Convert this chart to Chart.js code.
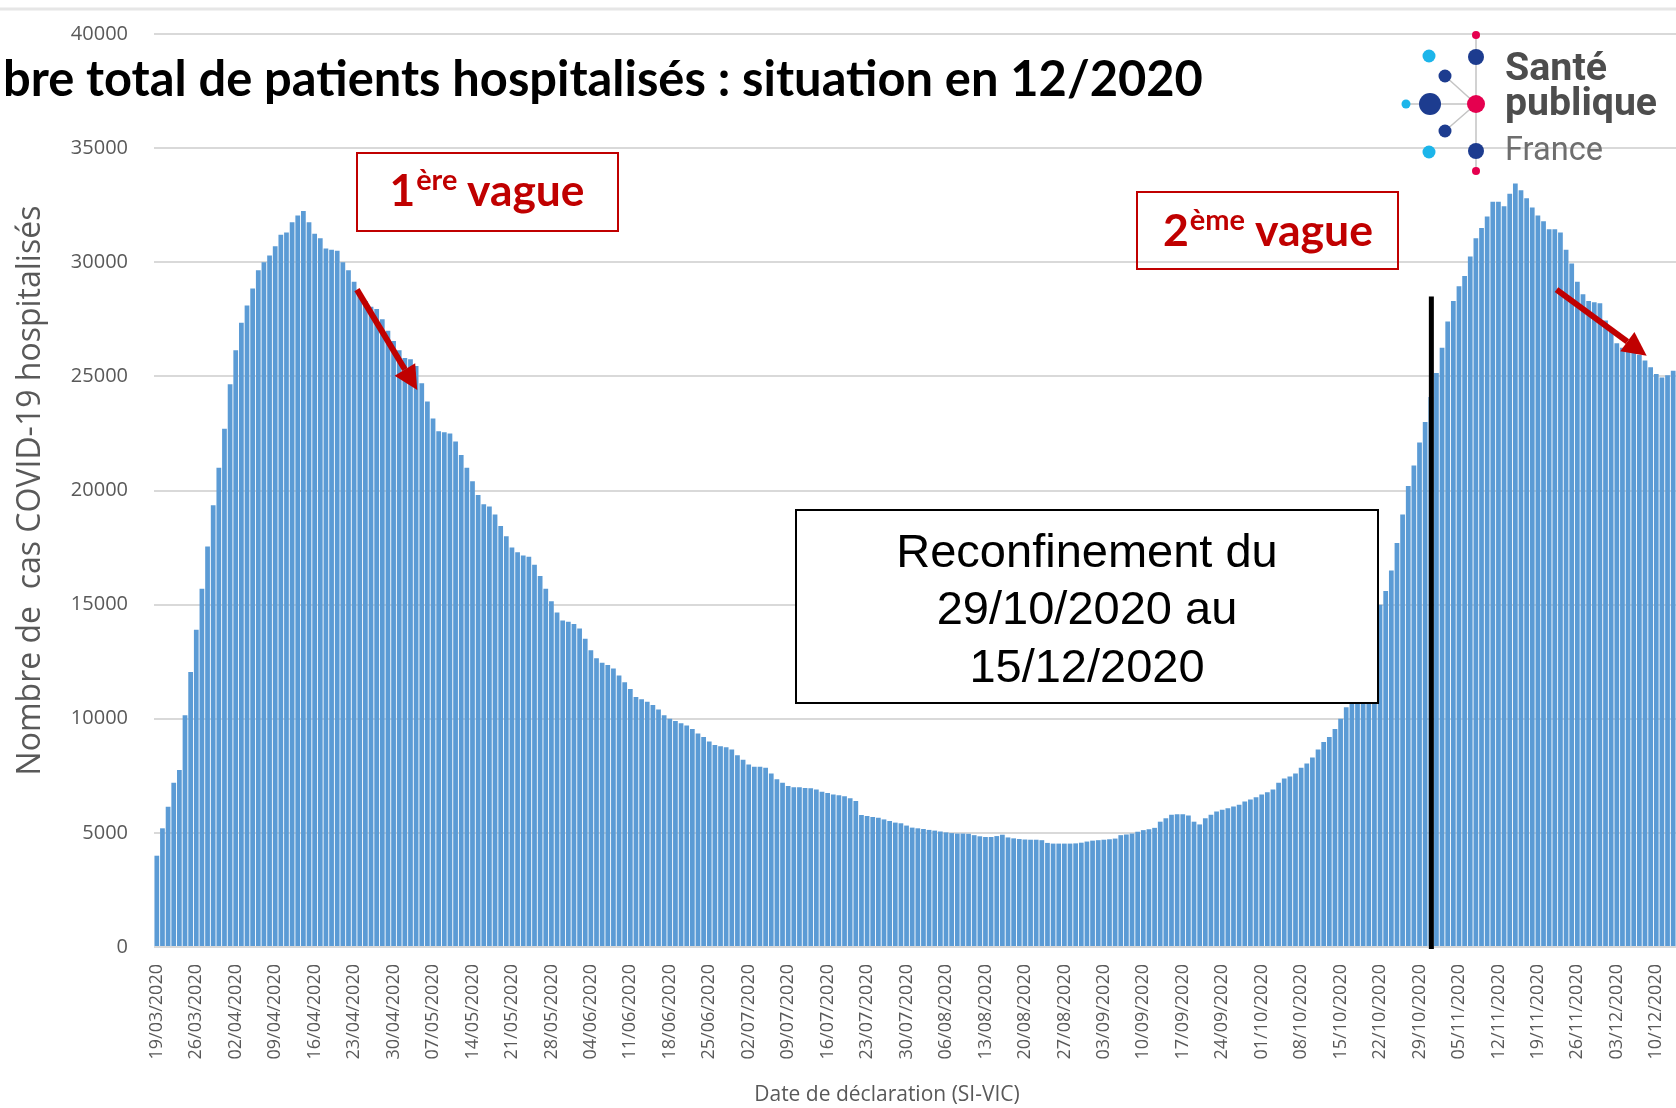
<!DOCTYPE html>
<html>
<head>
<meta charset="utf-8">
<script src="https://cdn.jsdelivr.net/npm/chart.js@4.4.0/dist/chart.umd.min.js"></script>
<style>
  html, body { margin: 0; padding: 0; background: #fff; }
  #wrap { width: 1676px; height: 1108px; position: relative; }
</style>
</head>
<body>
<div id="wrap"><canvas id="hosp" width="1676" height="1108"></canvas></div>
<script>
// patients hospitalises, un point par jour a partir du 19/03/2020
const mars = [4000, 5200, 6150, 7200, 7750, 10150, 12050, 13900, 15700, 17550, 19350, 21000, 22700];
const avril = [24650, 26150, 27350, 28100, 28850, 29650, 30000, 30300, 30700, 31200,
    31300, 31750, 32050, 32250, 31750, 31250, 31050, 30600, 30550, 30500,
    30000, 29650, 29150, 28600, 28300, 28050, 27950, 27500, 27000, 26550];
const mai = [26150, 25800, 25750, 25450, 24700, 23900, 23150, 22600, 22550, 22500,
    22150, 21550, 21000, 20400, 19800, 19400, 19300, 18950, 18450, 18000,
    17500, 17300, 17150, 17100, 16750, 16250, 15700, 15150, 14650, 14300, 14250];
const juin = [14150, 13950, 13500, 13000, 12650, 12450, 12350, 12200, 11900, 11600,
    11300, 10950, 10850, 10750, 10600, 10400, 10150, 10000, 9900, 9800,
    9700, 9550, 9350, 9200, 9000, 8850, 8800, 8750, 8650, 8400];
const juillet = [8200, 8000, 7900, 7900, 7850, 7600, 7350, 7200, 7050, 7000,
    7000, 6970, 6950, 6900, 6800, 6750, 6680, 6650, 6600, 6520,
    6400, 5780, 5740, 5700, 5660, 5590, 5520, 5450, 5420, 5320, 5230];
const aout = [5200, 5170, 5130, 5100, 5060, 5020, 4990, 4970, 4970, 4960,
    4900, 4850, 4820, 4820, 4860, 4920, 4800, 4760, 4730, 4710,
    4700, 4700, 4680, 4560, 4530, 4530, 4530, 4530, 4540, 4570, 4620];
const septembre = [4660, 4680, 4700, 4720, 4750, 4900, 4930, 4970, 5050, 5120,
    5160, 5220, 5490, 5640, 5790, 5820, 5820, 5760, 5490, 5370,
    5640, 5790, 5940, 6010, 6080, 6160, 6230, 6380, 6460, 6560];
const octobre = [6680, 6780, 6900, 7200, 7380, 7470, 7600, 7850, 8040, 8300,
    8650, 8980, 9200, 9550, 10000, 10500, 10950, 11650, 12400, 13150,
    14050, 15000, 15600, 16500, 17700, 18950, 20200, 21100, 22100, 23000, 24100];
const novembre = [25150, 26250, 27400, 28300, 28950, 29400, 30250, 31050, 31500, 32000,
    32650, 32650, 32450, 33000, 33450, 33150, 32800, 32400, 32050, 31800,
    31450, 31450, 31300, 30550, 29950, 29150, 28600, 28300, 28250, 28200];
const decembre = [27450, 26950, 26450, 26250, 26150, 26100, 25950, 25700, 25400, 25100,
    24950, 25050, 25250];

const hospitalises = [].concat(mars, avril, mai, juin, juillet, aout, septembre, octobre, novembre, decembre);

const premierJour = new Date(2020, 2, 19);
const jours = hospitalises.map((_, i) => {
    const d = new Date(premierJour.getFullYear(), premierJour.getMonth(), premierJour.getDate() + i);
    const dd = String(d.getDate()).padStart(2, '0');
    const mm = String(d.getMonth() + 1).padStart(2, '0');
    return `${dd}/${mm}/${d.getFullYear()}`;
});

const yTicks = [0, 5000, 10000, 15000, 20000, 25000, 30000, 35000, 40000];

// annotations (en unites du graphique : indice du jour, nombre)
const fleche1 = [[35.5, 28800], [46.2, 24400]];
const fleche2 = [[248.3, 28800], [264.3, 25900]];
const reconfinement = { jour: 226.1, haut: 28500 };

const grey = '#595959';
const red = '#C00000';

function fitFont(ctx, text, weight, family, targetW) {
    ctx.font = `${weight} 100px ${family}`;
    return 100 * targetW / ctx.measureText(text).width;
}

function drawArrow(ctx, x1, y1, x2, y2) {
    const ang = Math.atan2(y2 - y1, x2 - x1);
    const head = 24, half = 12;
    const bx = x2 - head * Math.cos(ang), by = y2 - head * Math.sin(ang);
    ctx.strokeStyle = red;
    ctx.fillStyle = red;
    ctx.lineWidth = 6;
    ctx.beginPath();
    ctx.moveTo(x1, y1);
    ctx.lineTo(bx, by);
    ctx.stroke();
    ctx.beginPath();
    ctx.moveTo(x2, y2);
    ctx.lineTo(bx + half * Math.sin(ang), by - half * Math.cos(ang));
    ctx.lineTo(bx - half * Math.sin(ang), by + half * Math.cos(ang));
    ctx.closePath();
    ctx.fill();
}

function drawVague(ctx, num, sup, rest, cx, baseline, targetW) {
    let big = 40, small = 26;
    ctx.font = `bold ${big}px Lato`;
    let w1 = ctx.measureText(num).width, w3 = ctx.measureText(rest).width;
    ctx.font = `bold ${small}px Lato`;
    let w2 = ctx.measureText(sup).width;
    const k = targetW / (w1 + w2 + w3);
    big *= k; small *= k; w1 *= k; w2 *= k; w3 *= k;
    let x = cx - (w1 + w2 + w3) / 2;
    ctx.fillStyle = red;
    ctx.textAlign = 'left';
    ctx.textBaseline = 'alphabetic';
    ctx.font = `bold ${big}px Lato`;
    ctx.fillText(num, x, baseline);
    ctx.font = `bold ${small}px Lato`;
    ctx.fillText(sup, x + w1 + 1, baseline - big * 0.36);
    ctx.font = `bold ${big}px Lato`;
    ctx.fillText(rest, x + w1 + w2, baseline);
}

function drawLogo(ctx) {
    const dark = '#1d3c8f', light = '#1cb5ea', pink = '#e5004f';
    ctx.strokeStyle = '#c4c4c4';
    ctx.lineWidth = 1.5;
    ctx.beginPath();
    ctx.moveTo(1476, 35); ctx.lineTo(1476, 171);
    ctx.moveTo(1476, 104); ctx.lineTo(1445, 76);
    ctx.moveTo(1476, 104); ctx.lineTo(1430, 104);
    ctx.moveTo(1476, 104); ctx.lineTo(1445, 131);
    ctx.moveTo(1430, 104); ctx.lineTo(1406, 104);
    ctx.stroke();
    const dots = [
        [1476, 35, 4, pink], [1476, 57, 8, dark], [1429, 56, 6.5, light], [1445, 76, 6.5, dark],
        [1406, 104, 4.5, light], [1430, 104, 11, dark], [1476, 104, 9, pink],
        [1445, 131, 6.5, dark], [1429, 152, 6.5, light], [1476, 151, 8, dark], [1476, 171, 4, pink]
    ];
    dots.forEach(([x, y, r, c]) => {
        ctx.fillStyle = c;
        ctx.beginPath();
        ctx.arc(x, y, r, 0, Math.PI * 2);
        ctx.fill();
    });
    ctx.textAlign = 'left';
    ctx.textBaseline = 'alphabetic';
    ctx.fillStyle = '#4d4d4d';
    let s = fitFont(ctx, 'Santé', 'bold', 'Roboto', 102);
    ctx.font = `bold ${s}px Roboto`;
    ctx.fillText('Santé', 1505, 80);
    s = fitFont(ctx, 'publique', 'bold', 'Roboto', 152);
    ctx.font = `bold ${s}px Roboto`;
    ctx.fillText('publique', 1505, 115);
    ctx.fillStyle = '#6e6e6e';
    s = fitFont(ctx, 'France', 'normal', 'Roboto', 98);
    ctx.font = `normal ${s}px Roboto`;
    ctx.fillText('France', 1505, 160);
}

const overlay = {
    id: 'overlay',
    beforeDraw(chart) {
        const ctx = chart.ctx;
        ctx.save();
        ctx.fillStyle = '#fff';
        ctx.fillRect(0, 0, chart.width, chart.height);
        ctx.strokeStyle = '#e6e6e6';
        ctx.lineWidth = 3;
        ctx.beginPath();
        ctx.moveTo(0, 9); ctx.lineTo(chart.width, 9);
        ctx.stroke();
        ctx.restore();
    },
    afterDatasetsDraw(chart) {
        const ctx = chart.ctx;
        const xs = chart.scales.x, ys = chart.scales.y;
        ctx.save();
        // trait du reconfinement
        const lx = xs.getPixelForValue(reconfinement.jour);
        ctx.fillStyle = '#000';
        ctx.fillRect(lx - 2.5, ys.getPixelForValue(reconfinement.haut), 5,
            ys.getPixelForValue(0) - ys.getPixelForValue(reconfinement.haut) + 2);
        [fleche1, fleche2].forEach(f => {
            drawArrow(ctx, xs.getPixelForValue(f[0][0]), ys.getPixelForValue(f[0][1]),
                xs.getPixelForValue(f[1][0]), ys.getPixelForValue(f[1][1]));
        });
        ctx.restore();
    },
    afterDraw(chart) {
        const ctx = chart.ctx;
        ctx.save();
        // titre (coupe a gauche comme sur la diapo)
        const titre = 'bre total de patients hospitalisés : situation en 12/2020';
        const ts = fitFont(ctx, titre, 'bold', 'Lato', 1200);
        ctx.font = `bold ${ts}px Lato`;
        ctx.fillStyle = '#000';
        ctx.textAlign = 'left';
        ctx.textBaseline = 'alphabetic';
        ctx.fillText(titre, 3, 96);

        // titre de l'axe des dates
        ctx.font = '21px "Open Sans"';
        ctx.fillStyle = grey;
        ctx.textAlign = 'center';
        ctx.textBaseline = 'middle';
        ctx.fillText('Date de déclaration (SI-VIC)', 887, 1095);
        ctx.textBaseline = 'alphabetic';

        // encadres vagues
        ctx.strokeStyle = red;
        ctx.lineWidth = 2;
        ctx.strokeRect(357, 153, 261, 78);
        ctx.strokeRect(1137, 192, 261, 77);
        drawVague(ctx, '1', 'ère', ' vague', 487, 206, 195);
        drawVague(ctx, '2', 'ème', ' vague', 1268, 246, 210);

        // encadre reconfinement
        ctx.fillStyle = '#fff';
        ctx.fillRect(796, 510, 582, 193);
        ctx.strokeStyle = '#000';
        ctx.lineWidth = 2;
        ctx.strokeRect(796, 510, 582, 193);
        ctx.fillStyle = '#000';
        ctx.textAlign = 'center';
        ctx.font = '47px "Liberation Sans"';
        ctx.fillText('Reconfinement du', 1087, 567);
        ctx.fillText('29/10/2020 au', 1087, 624);
        ctx.fillText('15/12/2020', 1087, 682);

        drawLogo(ctx);
        ctx.restore();
    }
};

new Chart(document.getElementById('hosp'), {
    type: 'bar',
    data: {
        labels: jours,
        datasets: [{
            label: 'Nombre de cas COVID-19 hospitalisés',
            data: hospitalises,
            backgroundColor: '#5B9BD5',
            borderWidth: 0,
            barPercentage: 0.84,
            categoryPercentage: 1
        }]
    },
    options: {
        responsive: false,
        animation: false,
        devicePixelRatio: 1,
        layout: { padding: { top: 34, left: 0, right: 0, bottom: 0 } },
        plugins: { legend: { display: false }, tooltip: { enabled: false } },
        scales: {
            x: {
                grid: { display: false },
                border: { display: false },
                ticks: {
                    autoSkip: false,
                    minRotation: 90,
                    maxRotation: 90,
                    padding: 9,
                    color: grey,
                    font: { family: 'Open Sans', size: 18 },
                    callback: function (v, i) { return i % 7 === 0 ? this.getLabelForValue(v) : ''; }
                },
                afterFit(s) { s.height = 161; s.paddingLeft = 0; s.paddingRight = 0; }
            },
            y: {
                min: yTicks[0],
                max: yTicks[yTicks.length - 1],
                afterBuildTicks(s) { s.ticks = yTicks.map(v => ({ value: v })); },
                ticks: {
                    padding: 26,
                    color: grey,
                    font: { family: 'Open Sans', size: 20 },
                    callback: v => String(v)
                },
                grid: { color: '#d9d9d9', lineWidth: 2, drawTicks: false },
                border: { display: false },
                title: {
                    display: true,
                    text: 'Nombre de  cas COVID-19 hospitalisés',
                    color: grey,
                    font: { family: 'Open Sans', size: 32 },
                    padding: { top: 12, bottom: 0 }
                },
                afterFit(s) { s.width = 154; s.paddingTop = 0; s.paddingBottom = 0; }
            }
        }
    },
    plugins: [overlay]
});
</script>
</body>
</html>
